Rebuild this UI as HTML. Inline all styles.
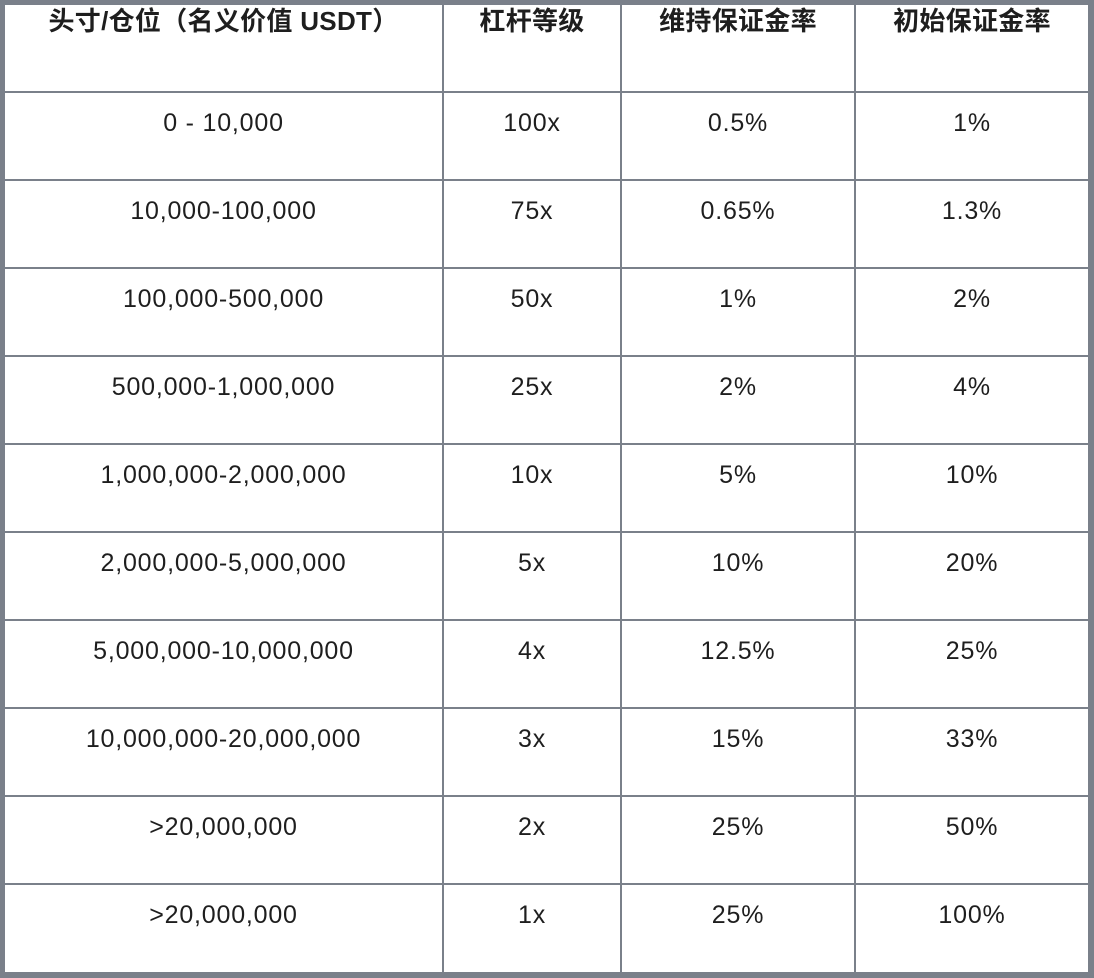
<!DOCTYPE html>
<html><head><meta charset="utf-8"><style>
body{margin:0;width:1094px;height:978px;background:#fff;position:relative;overflow:hidden;font-family:"Liberation Sans","Noto Sans CJK SC",sans-serif;color:#1e1e1e}
.b{position:absolute;background:#7a808a}
.t{position:absolute;text-align:center;font-size:25px;line-height:30px;letter-spacing:0.8px}
.h{font-weight:bold;font-size:26px;letter-spacing:0.3px}
</style></head><body>
<div class="b" style="left:0;top:0;width:1094px;height:5px"></div>
<div class="b" style="left:0;top:972px;width:1094px;height:6px"></div>
<div class="b" style="left:0;top:0;width:5px;height:978px"></div>
<div class="b" style="left:1088px;top:0;width:6px;height:978px"></div>
<div class="b" style="left:442px;top:0;width:2px;height:978px"></div>
<div class="b" style="left:620px;top:0;width:2px;height:978px"></div>
<div class="b" style="left:854px;top:0;width:2px;height:978px"></div>
<div id="r"></div>
<script>
(function(){
var rows=[["头寸/仓位（名义价值 USDT）","杠杆等级","维持保证金率","初始保证金率"],
["0 - 10,000","100x","0.5%","1%"],["10,000-100,000","75x","0.65%","1.3%"],["100,000-500,000","50x","1%","2%"],
["500,000-1,000,000","25x","2%","4%"],["1,000,000-2,000,000","10x","5%","10%"],["2,000,000-5,000,000","5x","10%","20%"],
["5,000,000-10,000,000","4x","12.5%","25%"],["10,000,000-20,000,000","3x","15%","33%"],[">20,000,000","2x","25%","50%"],[">20,000,000","1x","25%","100%"]];
var cx=[[5,442],[444,620],[622,854],[856,1088]],h="";
for(var i=0;i<rows.length;i++){var yy=i==0?6:92+(i-1)*88;
 if(i>0)h+='<div class="b" style="left:0;top:'+(yy-1)+'px;width:1094px;height:2px"></div>';
 for(var j=0;j<4;j++)h+='<div class="t'+(i==0?' h':'')+'" style="left:'+cx[j][0]+'px;width:'+(cx[j][1]-cx[j][0])+'px;top:'+(i==0?6:yy+16)+'px">'+rows[i][j].replace(/>/g,'&gt;')+'</div>';}
document.getElementById('r').innerHTML=h;
})();
</script>
</body></html>
